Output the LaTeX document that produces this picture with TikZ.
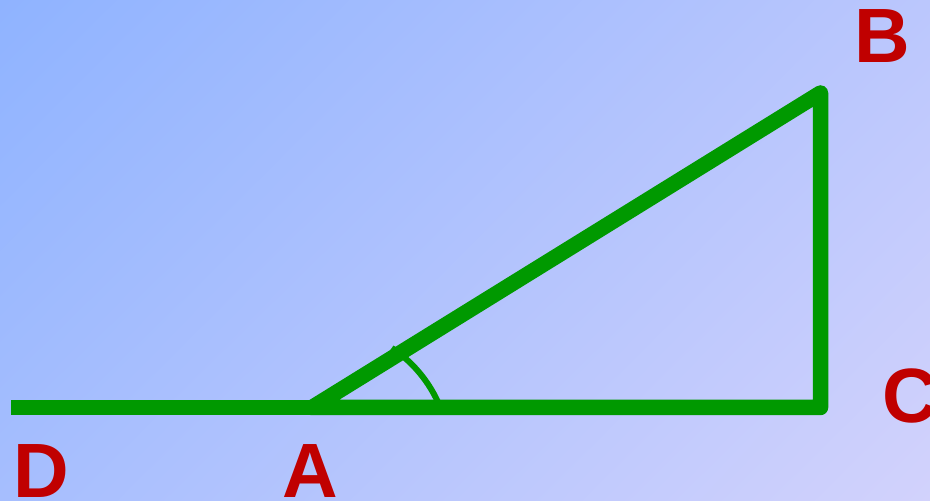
\documentclass[tikz,border=0pt]{standalone}
\usepackage{fontspec}
\setmainfont{Liberation Sans}
\usetikzlibrary{shadings}
\definecolor{bgUL}{HTML}{8FB3FF}
\definecolor{bgUR}{HTML}{BBC7FD}
\definecolor{bgLL}{HTML}{A6BEFE}
\definecolor{bgLR}{HTML}{D2D2FC}
\definecolor{lineGreen}{HTML}{009900}
\definecolor{labelRed}{HTML}{C00000}
\tikzset{
  side/.style={draw=lineGreen, line width=15.5pt},
  anglemark/.style={draw=lineGreen, line width=6pt},
  ptlabel/.style={text=labelRed, inner sep=0pt, font=\fontsize{77}{80}\selectfont\bfseries}
}
\begin{document}
\begin{tikzpicture}[x=1pt,y=1pt]
  \useasboundingbox (0,0) rectangle (930,501);
  \shade[upper left=bgUL, upper right=bgUR, lower left=bgLL, lower right=bgLR] (0,0) rectangle (930,501);
  % points
  \coordinate (A) at (312,93.5);
  \coordinate (B) at (820.5,408);
  \coordinate (C) at (820.5,93.5);
  \coordinate (dl) at (11,93.5);
  \coordinate (dr) at (371,93.5);
  \coordinate (arcc) at (320,45);
  % lines
  \draw[side, line cap=butt] (dl) -- (dr);
  \draw[side, line join=round] (A) -- (B) -- (C) -- cycle;
  \draw[anglemark] (arcc) ++(20:129.7) arc[start angle=20, end angle=56.4, radius=129.7];
  % labels
  \node[ptlabel] (lB) at (882,465) {B};
  \node[ptlabel] (lC) at (910,105) {C};
  \node[ptlabel] (lD) at (41.7,30) {D};
  \node[ptlabel] (lA) at (310.3,30) {A};
\end{tikzpicture}
\end{document}
